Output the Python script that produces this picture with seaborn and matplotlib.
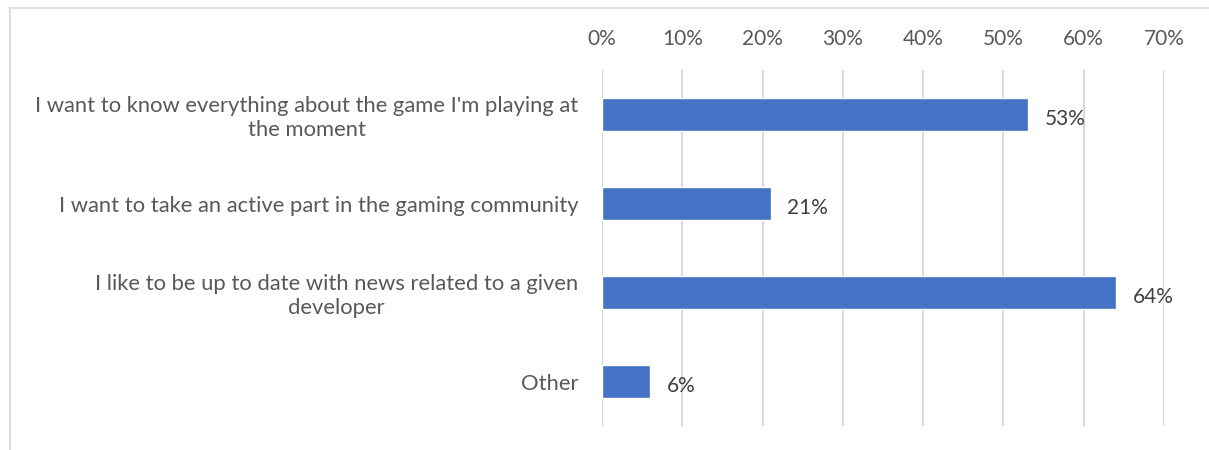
import matplotlib
matplotlib.use("Agg")
import matplotlib.pyplot as plt
import matplotlib.ticker as mticker
from matplotlib.lines import Line2D
import seaborn as sns
import pandas as pd

# Survey answers and the share of respondents choosing each one
categories = [
    "I want to know everything about the game I'm playing at\nthe moment",
    "I want to take an active part in the gaming community",
    "I like to be up to date with news related to a given\ndeveloper",
    "Other",
]
shares = [53, 21, 64, 6]
x_ticks = [0, 10, 20, 30, 40, 50, 60, 70]

df = pd.DataFrame({"reason": categories, "share": shares})

sns.set_theme(style="white")
plt.rcParams["font.family"] = ["Lato", "DejaVu Sans"]

fig = plt.figure(figsize=(12.09, 4.5), dpi=100)
ax = fig.add_axes([602 / 1209, 1 - 426 / 450, (1164 - 602) / 1209, (426 - 70) / 450])

sns.barplot(data=df, x="share", y="reason", orient="h", color="#4472C4",
            saturation=1, width=0.36, ax=ax)

ax.set_xlim(0, 70)
ax.set_ylim(3.5, -0.5)
ax.set_xticks(x_ticks)
ax.xaxis.set_major_formatter(mticker.FuncFormatter(lambda v, p: f"{v:.0f}%"))
ax.xaxis.tick_top()
ax.tick_params(axis="x", length=0, pad=15, labelsize=15, labelcolor="#595959")
ax.tick_params(axis="y", length=0, pad=17, labelsize=15.8, labelcolor="#595959")
ax.set_xlabel("")
ax.set_ylabel("")
for lbl in ax.get_yticklabels():
    lbl.set_horizontalalignment("right")
    lbl.set_multialignment("center")

ax.grid(axis="x", color="#d9d9d9", linewidth=1.5)
ax.set_axisbelow(True)
for s in ax.spines.values():
    s.set_visible(False)

# value labels to the right of each bar
for i, v in enumerate(shares):
    ax.text(v + 2.1, i + 0.05, f"{v}%", va="center", ha="left",
            fontsize=15, color="#404040")

# frame around the chart area
fig.add_artist(Line2D([10 / 1209, 1.0], [1 - 8 / 450, 1 - 8 / 450],
                      color="#d9d9d9", linewidth=1.2, transform=fig.transFigure))
fig.add_artist(Line2D([10 / 1209, 10 / 1209], [1 - 8 / 450, 0.0],
                      color="#d9d9d9", linewidth=1.2, transform=fig.transFigure))

fig.savefig("out.png", dpi=100, facecolor="white")
